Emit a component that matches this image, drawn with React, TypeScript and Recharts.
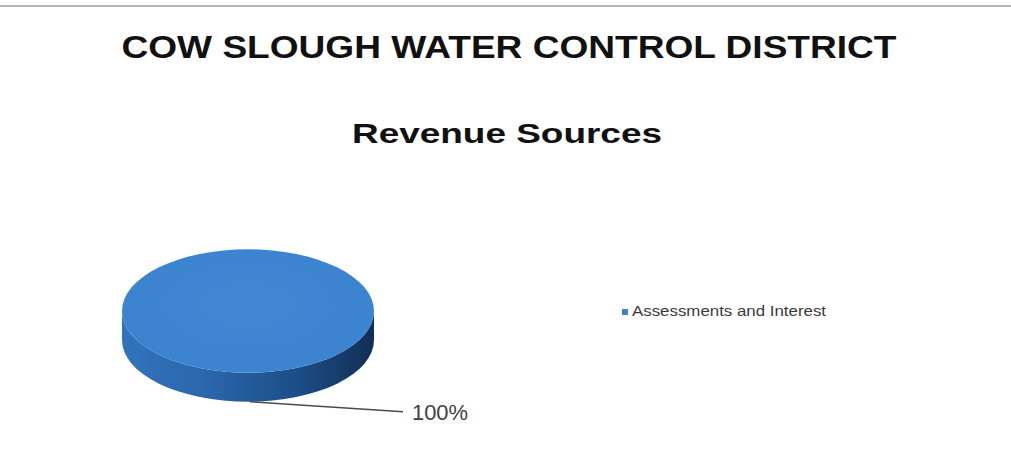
import React from "react";
import { PieChart, Pie, Cell, Legend } from "recharts";

const categories = ["Assessments and Interest"];
const values = [100];
const titleText = "COW SLOUGH WATER  CONTROL DISTRICT";
const subtitleText = "Revenue Sources";

const data = categories.map((name, i) => ({ name, value: values[i] }));

const TOP_COLOR = "#3b83cf";
const DEPTH = 29;
const SQUASH = 0.49;

function Slice3D(props: any) {
  const { cx, cy, outerRadius, startAngle, endAngle } = props;
  const rx = outerRadius;
  const ry = outerRadius * SQUASH;
  const full = Math.abs(endAngle - startAngle) >= 359.9;
  const pt = (a: number, dy = 0) => {
    const r = (a * Math.PI) / 180;
    return [cx + rx * Math.cos(r), cy - ry * Math.sin(r) + dy];
  };
  const side = `M ${cx - rx} ${cy} L ${cx - rx} ${cy + DEPTH} A ${rx} ${ry} 0 0 0 ${cx + rx} ${cy + DEPTH} L ${cx + rx} ${cy} A ${rx} ${ry} 0 0 1 ${cx - rx} ${cy} Z`;
  let top: React.ReactNode;
  if (full) {
    top = <ellipse cx={cx} cy={cy} rx={rx} ry={ry} fill="url(#topGrad)" />;
  } else {
    const [x1, y1] = pt(startAngle);
    const [x2, y2] = pt(endAngle);
    const large = Math.abs(endAngle - startAngle) > 180 ? 1 : 0;
    top = (
      <path
        d={`M ${cx} ${cy} L ${x1} ${y1} A ${rx} ${ry} 0 ${large} 0 ${x2} ${y2} Z`}
        fill="url(#topGrad)"
      />
    );
  }
  return (
    <g>
      <defs>
        <linearGradient id="sideGrad" x1="0" y1="0" x2="1" y2="0">
          <stop offset="0%" stopColor="#3273bd" />
          <stop offset="35%" stopColor="#2a66aa" />
          <stop offset="70%" stopColor="#1c4d86" />
          <stop offset="100%" stopColor="#112f55" />
        </linearGradient>
        <radialGradient id="topGrad" cx="0.5" cy="0.45" r="0.6">
          <stop offset="0%" stopColor="#4088d2" />
          <stop offset="100%" stopColor={TOP_COLOR} />
        </radialGradient>
      </defs>
      <path d={side} fill="url(#sideGrad)" />
      {top}
    </g>
  );
}

function renderLabel(props: any) {
  const { cx, cy, outerRadius, percent } = props;
  const ry = outerRadius * SQUASH;
  const sx = cx + 2;
  const sy = cy + ry + DEPTH;
  const ex = cx + 155;
  const ey = sy + 10;
  return (
    <g>
      <path d={`M ${sx} ${sy} L ${ex} ${ey}`} stroke="#4a4a4a" strokeWidth={1.3} fill="none" />
      <text
        x={ex + 9}
        y={ey + 8}
        fontFamily="Liberation Sans, Arial, sans-serif"
        fontSize={22}
        fill="#404040"
        textLength={56}
        lengthAdjust="spacingAndGlyphs"
      >
        {`${Math.round(percent * 100)}%`}
      </text>
    </g>
  );
}

function LegendContent(props: any) {
  const { payload } = props;
  return (
    <div>
      {(payload || []).map((p: any, i: number) => (
        <svg key={i} width={230} height={22} style={{ display: "block" }}>
          <rect x={1} y={8} width={6} height={6} fill={TOP_COLOR} />
          <text
            x={11}
            y={15}
            fontFamily="Liberation Sans, Arial, sans-serif"
            fontSize={14}
            fill="#3a3a3a"
            textLength={194}
            lengthAdjust="spacingAndGlyphs"
          >
            {p.value}
          </text>
        </svg>
      ))}
    </div>
  );
}

export default function App() {
  return (
    <div
      style={{
        position: "absolute",
        left: 0,
        top: 0,
        width: 1011,
        height: 453,
        background: "#ffffff",
        overflow: "hidden",
      }}
    >
      <svg
        width={1011}
        height={453}
        style={{ position: "absolute", left: 0, top: 0 }}
      >
        <rect x={0} y={5} width={1011} height={2} fill="#b5b5b5" />
        <text
          x={509}
          y={58}
          textAnchor="middle"
          fontFamily="Liberation Sans, Arial, sans-serif"
          fontWeight="bold"
          fontSize={32}
          fill="#111"
          textLength={775}
          lengthAdjust="spacingAndGlyphs"
        >
          {titleText}
        </text>
        <text
          x={507}
          y={143}
          textAnchor="middle"
          fontFamily="Liberation Sans, Arial, sans-serif"
          fontWeight="bold"
          fontSize={28}
          fill="#111"
          textLength={310}
          lengthAdjust="spacingAndGlyphs"
        >
          {subtitleText}
        </text>
      </svg>
      <div style={{ position: "absolute", left: 0, top: 0 }}>
        <PieChart width={1011} height={453} margin={{ top: 0, right: 0, bottom: 0, left: 0 }}>
          <Pie
            data={data}
            dataKey="value"
            nameKey="name"
            cx={248}
            cy={311}
            outerRadius={126}
            startAngle={90}
            endAngle={-270}
            stroke="none"
            isAnimationActive={false}
            shape={Slice3D}
            activeShape={Slice3D}
            inactiveShape={Slice3D}
            label={renderLabel}
            labelLine={false}
          >
            {data.map((d, i) => (
              <Cell key={d.name} fill={TOP_COLOR} />
            ))}
          </Pie>
          <Legend
            layout="vertical"
            align="right"
            verticalAlign="top"
            content={LegendContent}
            wrapperStyle={{ position: "absolute", left: 621, top: 301, width: 240 }}
          />
        </PieChart>
      </div>
    </div>
  );
}
